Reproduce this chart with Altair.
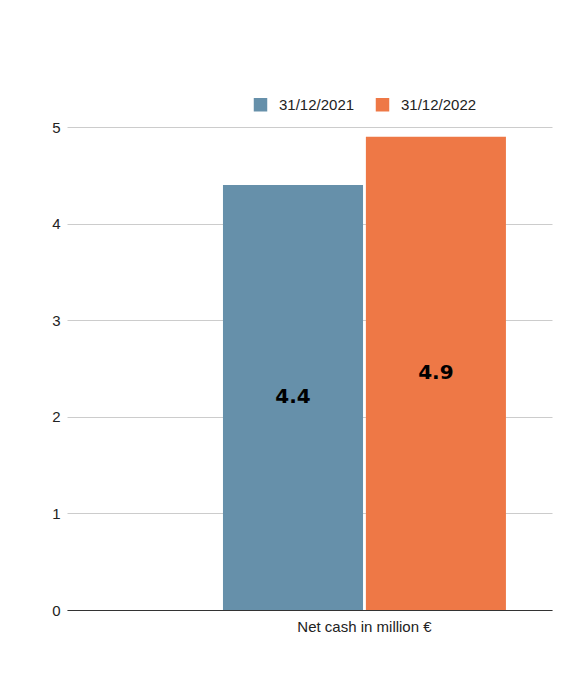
import altair as alt
import pandas as pd

categories = ["Net cash in million €", "Net cash in million €"]
series = ["31/12/2021", "31/12/2022"]
values = [4.4, 4.9]
value_labels = ["4.4", "4.9"]
colors = ["#6690AA", "#EE7846"]
y_ticks = [0, 1, 2, 3, 4, 5]

df = pd.DataFrame({"cat": categories, "series": series, "value": values, "label": value_labels})

FONT = "Liberation Sans"

x_enc = alt.X(
    "cat:N",
    title=None,
    scale=alt.Scale(paddingInner=0, paddingOuter=0.357, align=0.772),
    axis=alt.Axis(labelAngle=0, ticks=False, domain=True, domainColor="#333333",
                  domainWidth=1, labelFontSize=15, labelColor="#222222",
                  labelPadding=9, labelFont=FONT, grid=False),
)
xoff = alt.XOffset("series:N", scale=alt.Scale(paddingInner=0.02))

bars = alt.Chart(df).mark_bar().encode(
    x=x_enc,
    xOffset=xoff,
    y=alt.Y("value:Q", title=None,
            scale=alt.Scale(domain=[0, 5], nice=False),
            axis=alt.Axis(values=y_ticks, ticks=False, domain=False, gridColor="#CCCCCC",
                          labelFontSize=15, labelColor="#222222", labelPadding=7,
                          labelFont=FONT, format="d")),
    color=alt.Color("series:N", scale=alt.Scale(domain=series, range=colors),
                    legend=alt.Legend(orient="none", legendX=186, legendY=-30,
                                      direction="horizontal", title=None,
                                      symbolType="square", symbolSize=182,
                                      symbolStrokeWidth=0,
                                      labelFontSize=15, labelFont=FONT,
                                      labelColor="#222222", columnPadding=20,
                                      labelOffset=11, symbolOffset=0)),
)

text = alt.Chart(df).transform_calculate(mid="datum.value / 2").mark_text(
    font="DejaVu Sans", fontSize=20, fontWeight="bold", color="#000000", baseline="middle"
).encode(
    x=x_enc,
    xOffset=xoff,
    y=alt.Y("mid:Q"),
    text="label:N",
)

chart = alt.layer(bars, text).properties(
    width=485, height=483,
    autosize=alt.AutoSizeParams(type="none"),
    padding={"left": 59, "top": 119, "right": 8, "bottom": 50},
    background="white",
).configure_view(stroke=None)

chart.save("out.html", embed_options={"renderer": "svg", "actions": False})
